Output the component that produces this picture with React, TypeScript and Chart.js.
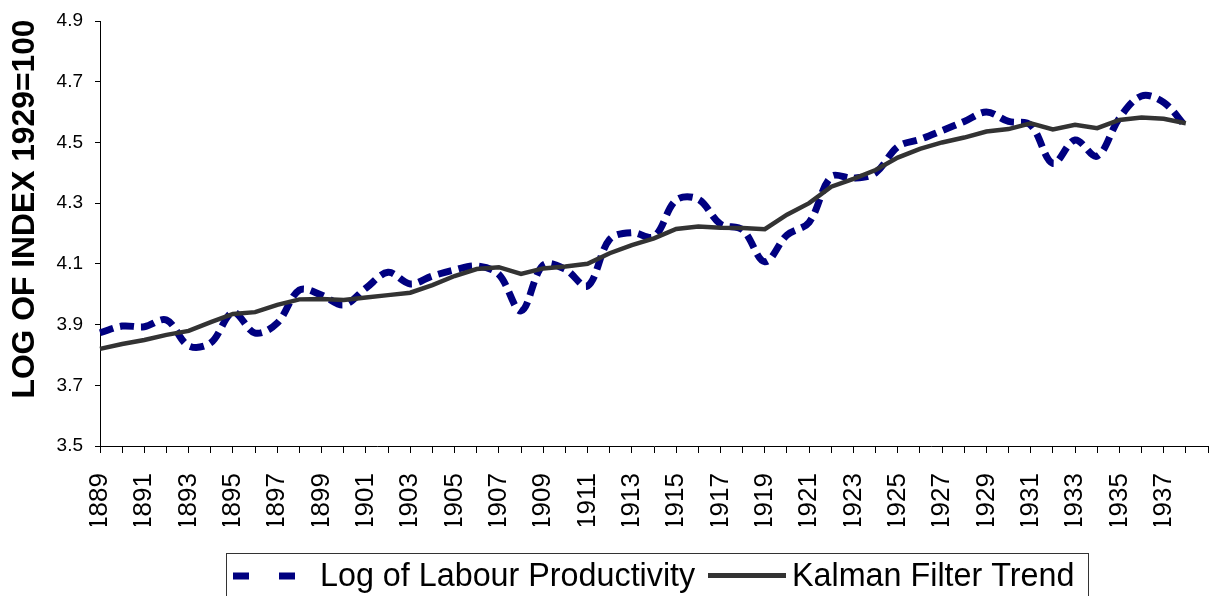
import { useEffect, useRef } from "react";
import { Chart, registerables } from "chart.js";

Chart.register(...registerables);

const years = [
  "1889", "1890", "1891", "1892", "1893", "1894", "1895", "1896", "1897", "1898",
  "1899", "1900", "1901", "1902", "1903", "1904", "1905", "1906", "1907", "1908",
  "1909", "1910", "1911", "1912", "1913", "1914", "1915", "1916", "1917", "1918",
  "1919", "1920", "1921", "1922", "1923", "1924", "1925", "1926", "1927", "1928",
  "1929", "1930", "1931", "1932", "1933", "1934", "1935", "1936", "1937", "1938",
  "1939",
];

const labourProductivity = [
  3.873, 3.895, 3.893, 3.915, 3.83, 3.84, 3.94, 3.872, 3.905, 4.014,
  3.997, 3.965, 4.02, 4.072, 4.034, 4.06, 4.08, 4.093, 4.065, 3.945,
  4.096, 4.082, 4.027, 4.181, 4.203, 4.19, 4.31, 4.313, 4.231, 4.212,
  4.107, 4.195, 4.237, 4.387, 4.382, 4.4, 4.486, 4.51, 4.539, 4.569,
  4.6, 4.569, 4.557, 4.431, 4.508, 4.455, 4.58, 4.653, 4.632, 4.552,
];

const kalmanTrend = [
  3.82, 3.836, 3.849, 3.866, 3.879, 3.908, 3.935, 3.941, 3.965, 3.983,
  3.984, 3.981, 3.989, 3.997, 4.005, 4.03, 4.06, 4.083, 4.089, 4.067,
  4.085, 4.091, 4.1, 4.135, 4.162, 4.184, 4.215, 4.223, 4.219, 4.218,
  4.214, 4.262, 4.3, 4.354, 4.38, 4.409, 4.45, 4.479, 4.5, 4.516,
  4.536, 4.544, 4.563, 4.543, 4.558, 4.547, 4.574, 4.582, 4.578, 4.563,
];

const seriesNames = ["Log of Labour Productivity", "Kalman Filter Trend"];
const yAxisTitle = "LOG OF INDEX 1929=100";
const yMin = 3.5;
const yMax = 4.9;
const yStep = 0.2;

const FONT = '"Liberation Sans", Arial, Helvetica, sans-serif';

const yTitlePlugin = {
  id: "yTitleCustom",
  afterDraw(chart: any) {
    const ctx = chart.ctx;
    const area = chart.chartArea;
    ctx.save();
    ctx.translate(area.left - 75, area.top + 188);
    ctx.rotate(-Math.PI / 2);
    ctx.font = `bold 31.8px ${FONT}`;
    ctx.fillStyle = "#000";
    ctx.textAlign = "center";
    ctx.textBaseline = "middle";
    ctx.fillText(yAxisTitle, 0, 0);
    ctx.restore();
  },
};

const legendPlugin = {
  id: "boxedLegend",
  afterDraw(chart: any) {
    const ctx = chart.ctx;
    const ds = chart.data.datasets;
    ctx.save();
    ctx.strokeStyle = "#333";
    ctx.lineWidth = 1;
    ctx.strokeRect(226.5, 553.5, 862, 60);

    ctx.strokeStyle = ds[0].borderColor;
    ctx.lineWidth = 7;
    ctx.setLineDash([16, 30]);
    ctx.beginPath();
    ctx.moveTo(233, 576);
    ctx.lineTo(295, 576);
    ctx.stroke();
    ctx.setLineDash([]);

    ctx.font = `32.3px ${FONT}`;
    ctx.fillStyle = "#000";
    ctx.textAlign = "left";
    ctx.textBaseline = "alphabetic";
    ctx.fillText(ds[0].label, 320, 586);

    ctx.strokeStyle = ds[1].borderColor;
    ctx.lineWidth = 5;
    ctx.beginPath();
    ctx.moveTo(708, 575.5);
    ctx.lineTo(786, 575.5);
    ctx.stroke();

    ctx.fillText(ds[1].label, 792, 586);
    ctx.restore();
  },
};

export default function App() {
  const canvasRef = useRef<HTMLCanvasElement | null>(null);

  useEffect(() => {
    if (!canvasRef.current) return;
    const chart = new Chart(canvasRef.current, {
      type: "line",
      data: {
        labels: years,
        datasets: [
          {
            label: seriesNames[0],
            data: labourProductivity,
            borderColor: "#000080",
            backgroundColor: "#000080",
            borderWidth: 7,
            borderDash: [14, 7],
            tension: 0.35,
            pointRadius: 0,
            fill: false,
            order: 1,
          },
          {
            label: seriesNames[1],
            data: kalmanTrend,
            borderColor: "#333333",
            backgroundColor: "#333333",
            borderWidth: 4.5,
            tension: 0,
            pointRadius: 0,
            fill: false,
            order: 0,
          },
        ],
      },
      options: {
        animation: false,
        responsive: true,
        maintainAspectRatio: false,
        layout: { padding: { top: 21, left: 0, right: 1, bottom: 70 } },
        plugins: {
          legend: { display: false },
          tooltip: { enabled: false },
          title: { display: false },
        },
        scales: {
          x: {
            type: "category",
            offset: false,
            grid: {
              display: true,
              drawOnChartArea: false,
              drawTicks: true,
              tickLength: 7,
              color: "#000",
              lineWidth: 1,
            },
            border: { display: true, color: "#000", width: 1 },
            ticks: {
              autoSkip: false,
              maxRotation: 90,
              minRotation: 90,
              padding: 20,
              color: "#000",
              font: { family: FONT, size: 26 },
              callback: (_v: any, i: number) =>
                i % 2 === 0 && i < years.length - 1 ? years[i] : "",
            },
            afterFit: (scale: any) => {
              scale.paddingLeft = 0;
              scale.paddingRight = 0;
              scale.height = 80;
            },
          },
          y: {
            min: yMin,
            max: yMax,
            grid: {
              display: true,
              drawOnChartArea: false,
              drawTicks: true,
              tickLength: 5,
              color: "#000",
              lineWidth: 1,
            },
            border: { display: true, color: "#000", width: 1 },
            ticks: {
              stepSize: yStep,
              padding: 12,
              color: "#000",
              font: { family: FONT, size: 19 },
              callback: (v: any) => Number(v).toFixed(1),
            },
            afterFit: (scale: any) => {
              scale.width = 100;
              scale.paddingTop = 0;
              scale.paddingBottom = 0;
            },
          },
        },
      },
      plugins: [yTitlePlugin, legendPlugin],
    });
    return () => chart.destroy();
  }, []);

  return (
    <div
      style={{
        position: "absolute",
        left: 0,
        top: 0,
        width: "1209px",
        height: "596px",
        overflow: "hidden",
        background: "#fff",
      }}
    >
      <canvas ref={canvasRef} />
    </div>
  );
}
